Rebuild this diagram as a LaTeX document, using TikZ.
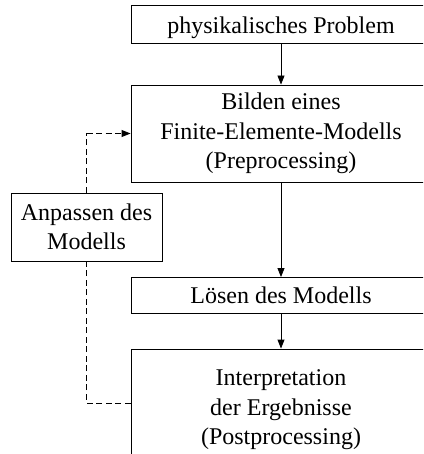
\documentclass[tikz,border=0pt]{standalone}
\usepackage{fontspec}
\setmainfont{Liberation Serif}
\usetikzlibrary{arrows.meta}
\begin{document}
\begin{tikzpicture}[x=1pt,y=-1pt,
  box/.style={draw, line width=0.9pt, align=center, inner sep=0pt,
    font=\fontsize{24}{29.5}\selectfont},
  conn/.style={line width=0.9pt, -{Triangle[length=9pt,width=7pt]}},
  dsh/.style={line width=0.9pt, dash pattern=on 6pt off 3.5pt}]
\useasboundingbox (0,0) rectangle (423,454);
\clip (0,0) rectangle (423,454);
\node[box, minimum width=300pt, minimum height=38pt] (prob) at (281,24) {\raisebox{-3.5pt}[\height][\depth]{physikalisches Problem}};
\node[box, minimum width=300pt, minimum height=97pt] (fem) at (281,133.5) {Bilden eines\\Finite-Elemente-Modells\\(Preprocessing)};
\node[box, minimum width=300pt, minimum height=36pt] (loes) at (281,295.5) {Lösen des Modells};
\node[box, minimum width=300pt, minimum height=122pt] (interp) at (281,410) {Interpretation\\der Ergebnisse\\(Postprocessing)};
\node[box, minimum width=151pt, minimum height=68pt] (anp) at (86.5,227) {Anpassen des\\Modells};
\coordinate (d1) at (86.5,403);
\coordinate (d2) at (86.5,133.5);
\draw[conn] (prob) -- (fem);
\draw[conn] (fem) -- (loes);
\draw[conn] (loes) -- (interp);
\draw[dsh] (interp.west |- d1) -- (d1) -- (anp.south);
\draw[dsh] (anp.north) -- (d2);
\draw[conn, dash pattern=on 6pt off 3.5pt] (d2) -- (fem.west);
\end{tikzpicture}
\end{document}
